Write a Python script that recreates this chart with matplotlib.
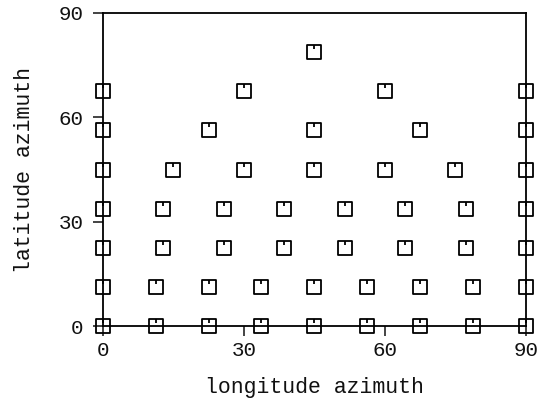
import matplotlib
matplotlib.use("Agg")
import matplotlib.pyplot as plt
from matplotlib.path import Path

# longitude / latitude azimuth sample grid (degrees), read row by row
lat_rows = [0.0, 11.25, 22.5, 33.75, 45.0, 56.25, 67.5, 78.75]
lon_rows = [
    [0, 11.25, 22.5, 33.75, 45, 56.25, 67.5, 78.75, 90],
    [0, 11.25, 22.5, 33.75, 45, 56.25, 67.5, 78.75, 90],
    [0, 12.86, 25.71, 38.57, 51.43, 64.29, 77.14, 90],
    [0, 12.86, 25.71, 38.57, 51.43, 64.29, 77.14, 90],
    [0, 15, 30, 45, 60, 75, 90],
    [0, 22.5, 45, 67.5, 90],
    [0, 30, 60, 90],
    [45],
]
ticks = [0, 30, 60, 90]

lon = [x for row in lon_rows for x in row]
lat = [la for la, row in zip(lat_rows, lon_rows) for _ in row]

# open square with a small notch at the top, like the plotter glyph
verts = [(-1, -1), (1, -1), (1, 1), (-1, 1), (-1, -1), (0, 1), (0, 0.45)]
codes = [Path.MOVETO, Path.LINETO, Path.LINETO, Path.LINETO, Path.CLOSEPOLY,
         Path.MOVETO, Path.LINETO]
marker = Path(verts, codes)

plt.rcParams["font.family"] = ["Liberation Mono", "DejaVu Sans Mono"]

fig = plt.figure(figsize=(5.44, 4.01), dpi=100)
ax = fig.add_axes([0.1888, 0.187, 0.7782, 0.7806])
ax.plot(lon, lat, linestyle="none", marker=marker, markersize=10,
        markerfacecolor="none", markeredgecolor="black", markeredgewidth=1.3,
        clip_on=False)

ax.set_xlim(0, 90)
ax.set_ylim(0, 90)
ax.set_xticks(ticks)
ax.set_yticks(ticks)
ax.tick_params(direction="out", length=7, width=1.1, labelsize=15,
               colors="#111111")
ax.tick_params(axis="y", pad=7)
ax.tick_params(axis="x", pad=4)
for s in ax.spines.values():
    s.set_linewidth(1.3)

ax.set_xlabel("longitude azimuth", fontsize=15.5, labelpad=12, color="#111111")
ax.set_ylabel("latitude azimuth", fontsize=15.5, labelpad=17, color="#111111")

fig.savefig("out.png", dpi=100)
